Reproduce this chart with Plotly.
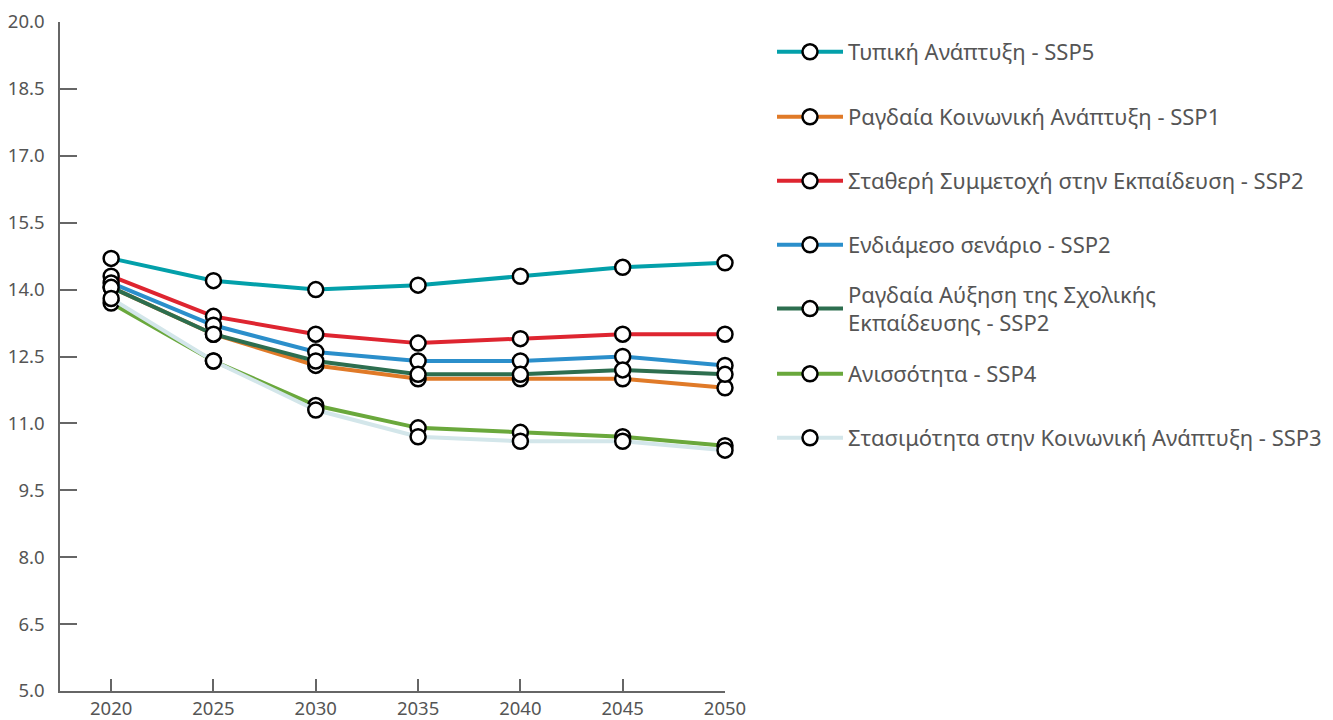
import plotly.graph_objects as go

years = [2020, 2025, 2030, 2035, 2040, 2045, 2050]

names = [
    "Τυπική Ανάπτυξη - SSP5",
    "Ραγδαία Κοινωνική Ανάπτυξη - SSP1",
    "Σταθερή Συμμετοχή στην Εκπαίδευση - SSP2",
    "Ενδιάμεσο σενάριο - SSP2",
    "Ραγδαία Αύξηση της Σχολικής<br>Εκπαίδευσης - SSP2",
    "Ανισσότητα - SSP4",
    "Στασιμότητα στην Κοινωνική Ανάπτυξη - SSP3",
]

ssp5 = [14.7, 14.2, 14.0, 14.1, 14.3, 14.5, 14.6]
ssp1 = [14.05, 13.0, 12.3, 12.0, 12.0, 12.0, 11.8]
ssp2_const = [14.3, 13.4, 13.0, 12.8, 12.9, 13.0, 13.0]
ssp2_mid = [14.15, 13.2, 12.6, 12.4, 12.4, 12.5, 12.3]
ssp2_fast = [14.05, 13.0, 12.4, 12.1, 12.1, 12.2, 12.1]
ssp4 = [13.7, 12.4, 11.4, 10.9, 10.8, 10.7, 10.5]
ssp3 = [13.8, 12.4, 11.3, 10.7, 10.6, 10.6, 10.4]

series = [ssp5, ssp1, ssp2_const, ssp2_mid, ssp2_fast, ssp4, ssp3]
colors = ["#03a0aa", "#e07a28", "#de2530", "#2b8fcb", "#2d6e4f", "#6aa83c", "#d3e6ea"]

# page body has an 8px default margin; compensate
OFF = 8
legend_y_px = [52, 117, 181, 245, 309, 374, 438]

W, H = 1333 - OFF, 720 - OFF
L, T = 60 - OFF, 22 - OFF
R = W - (725 - OFF)
B = H - (691 - OFF)
plot_h = H - T - B
plot_w = W - L - R

FONT = "Noto Sans"
TXT = "#555555"

fig = go.Figure()
layout_legends = {}
for i, (nm, ys, col) in enumerate(zip(names, series, colors)):
    lname = "legend" if i == 0 else f"legend{i+1}"
    fig.add_trace(go.Scatter(
        x=years, y=ys, name=nm, mode="lines+markers",
        line=dict(color=col, width=4),
        marker=dict(symbol="circle", size=15, color="white",
                    line=dict(color="black", width=2.5)),
        cliponaxis=False,
        legend=lname,
    ))
    layout_legends[lname] = dict(
        x=(772 - OFF - L) / plot_w,
        xanchor="left",
        y=(H - B - (legend_y_px[i] - OFF)) / plot_h,
        yanchor="middle",
        font=dict(family=FONT, size=22, color=TXT),
        bgcolor="rgba(0,0,0,0)",
        borderwidth=0,
        itemwidth=66,
    )

fig.update_layout(
    width=W, height=H,
    margin=dict(l=L, r=R, t=T, b=B, autoexpand=False),
    paper_bgcolor="white", plot_bgcolor="white",
    font=dict(family=FONT, size=18, color=TXT),
    showlegend=True,
    **layout_legends,
)

fig.update_xaxes(
    range=[2017.5, 2050], tickvals=years, ticktext=[str(y) for y in years],
    showgrid=False, zeroline=False, automargin=False,
    showline=True, linecolor="#666666", linewidth=1.5,
    ticks="inside", ticklen=12, tickcolor="#666666", tickwidth=1.5,
    tickfont=dict(family=FONT, size=18.5, color=TXT),
)
fig.update_yaxes(
    range=[5, 20], tick0=5, dtick=1.5, tickformat=".1f",
    showgrid=False, zeroline=False, automargin=False,
    showline=True, linecolor="#666666", linewidth=1.5,
    ticks="inside", ticklen=17, tickcolor="#666666", tickwidth=1.5,
    tickfont=dict(family=FONT, size=18.5, color=TXT),
    ticklabelstandoff=10,
)

fig.write_html("out.html")
